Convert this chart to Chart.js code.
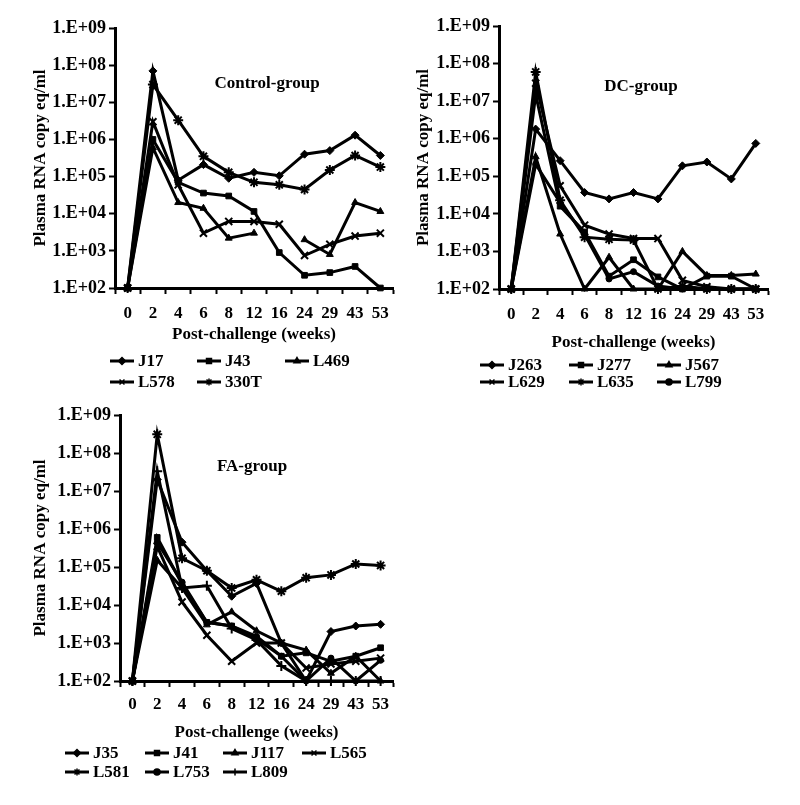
<!DOCTYPE html>
<html lang="en">
<head>
<meta charset="UTF-8">
<title>Plasma RNA copy eq/ml</title>
<script src="https://cdn.jsdelivr.net/npm/chart.js"></script>
<style>
    body { margin: 0; background: #fff; }
    canvas { position: absolute; }
</style>
</head>
<body>
<canvas id="control" width="400" height="400" style="left:0;top:0"></canvas>
<canvas id="dc" width="400" height="400" style="left:400px;top:0"></canvas>
<canvas id="fa" width="400" height="405" style="left:0;top:400px"></canvas>
<script>
// shared axis data
const weeks = ['0', '2', '4', '6', '8', '12', '16', '24', '29', '43', '53'];
const yTickValues = [1e2, 1e3, 1e4, 1e5, 1e6, 1e7, 1e8, 1e9];
const yTickLabels = ['1.E+02', '1.E+03', '1.E+04', '1.E+05', '1.E+06', '1.E+07', '1.E+08', '1.E+09'];

// Control-group
const controlNames = ['J17', 'J43', 'L469', 'L578', '330T'];
const J17  = [100, 7e7, 8e4, 2.1e5, 9e4, 1.3e5, 1.05e5, 4e5, 5e5, 1.3e6, 3.7e5];
const J43  = [100, 1e6, 7e4, 3.6e4, 3e4, 1.15e4, 900, 220, 260, 380, 100];
const L469 = [100, 6e5, 2e4, 1.4e4, 2.2e3, 3e3, null, 2e3, 800, 2e4, 1.15e4];
const L578 = [100, 3e6, 6e4, 3e3, 6.2e3, 6.2e3, 5.2e3, 750, 1.5e3, 2.5e3, 3e3];
const T330 = [100, 3e7, 3.3e6, 3.5e5, 1.3e5, 7e4, 6e4, 4.5e4, 1.5e5, 3.7e5, 1.8e5];

// DC-group
const dcNames = ['J263', 'J277', 'J567', 'L629', 'L635', 'L799'];
const J263 = [100, 1.8e6, 2.6e5, 3.7e4, 2.5e4, 3.7e4, 2.5e4, 1.9e5, 2.4e5, 8.5e4, 7.5e5];
const J277 = [100, 1.5e7, 1.6e4, 3.3e3, 220, 600, 210, 100, 220, 220, 100];
const J567 = [100, 3.3e5, 2.9e3, 100, 700, 100, 100, 1e3, 230, 230, 250];
const L629 = [100, 3e7, 5.6e4, 5e3, 2.9e3, 2.2e3, 2.2e3, 170, 115, 100, 100];
const L635 = [100, 6e7, 2.3e4, 2.4e3, 2.1e3, 2e3, 100, 120, 100, 100, 100];
const L799 = [100, 2.1e5, 2e4, 2.8e3, 185, 290, 120, 100, 100, 100, 100];

// FA-group
const faNames = ['J35', 'J41', 'J117', 'L565', 'L581', 'L753', 'L809'];
const J35  = [100, 2e7, 4.5e5, 8e4, 1.7e4, 3.7e4, 1e3, 100, 2e3, 2.8e3, 3.1e3];
const J41  = [100, 6e5, 3.5e4, 3.5e3, 2.8e3, 1.3e3, 450, 550, 330, 450, 750];
const J117 = [100, 1.5e5, 2.8e4, 3e3, 6.6e3, 2.1e3, 1e3, 650, 160, 450, 100];
const L565 = [100, 3.5e5, 1.2e4, 1.6e3, 330, 1e3, 1e3, 220, 280, 330, 400];
const L581 = [100, 3.1e8, 1.7e5, 8e4, 2.8e4, 4.6e4, 2.3e4, 5.2e4, 6.2e4, 1.2e5, 1.1e5];
const L753 = [100, 4.5e5, 4e4, 3.5e3, 2.8e3, 1.5e3, 450, 100, 400, 100, 350];
const L809 = [100, 3.3e7, 2.8e4, 3.2e4, 2.4e3, 1.2e3, 250, 100, 100, 100, 100];

const FONT = '"Liberation Serif", "Times New Roman", serif';
Chart.defaults.font.family = FONT;
Chart.defaults.font.weight = 'bold';
Chart.defaults.font.size = 17;
Chart.defaults.color = '#000';

// group name inside the plot
const groupLabel = {
    id: 'groupLabel',
    afterDraw(chart, args, opts) {
        const ctx = chart.ctx;
        ctx.save();
        ctx.font = 'bold 17px ' + FONT;
        ctx.fillStyle = '#000';
        ctx.textAlign = 'center';
        ctx.textBaseline = 'middle';
        ctx.fillText(opts.text, opts.x, opts.y);
        ctx.restore();
    }
};

// legend with line + marker like the original
const lineLegend = {
    id: 'lineLegend',
    afterDraw(chart, args, opts) {
        const ctx = chart.ctx;
        ctx.save();
        ctx.font = 'bold 17px ' + FONT;
        ctx.textBaseline = 'middle';
        chart.data.datasets.forEach((ds, i) => {
            const x = opts.cols[i % opts.cols.length];
            const y = opts.rows[Math.floor(i / opts.cols.length)];
            ctx.strokeStyle = '#000';
            ctx.fillStyle = '#000';
            ctx.lineWidth = 3;
            ctx.beginPath();
            ctx.moveTo(x, y);
            ctx.lineTo(x + 24, y);
            ctx.stroke();
            ctx.lineWidth = 1.5;
            const r = ds.pointStyle === 'circle' ? 3 : 3.5;
            Chart.helpers.drawPoint(ctx, { pointStyle: ds.pointStyle, radius: r, borderWidth: 1.5, rotation: 0 }, x + 12, y);
            ctx.fillText(ds.label, x + 28, y + 1);
        });
        ctx.restore();
    }
};

function makeDataset(label, data, style) {
    const thin = ['crossRot', 'star', 'cross'].includes(style);
    return {
        label: label,
        data: data,
        borderColor: '#000',
        backgroundColor: '#000',
        borderWidth: 3,
        pointStyle: style,
        pointRadius: thin ? 5 : (style === 'circle' ? 3 : 4),
        pointBorderWidth: thin ? 2 : 1,
        pointBackgroundColor: '#000',
        pointBorderColor: '#000',
        tension: 0,
        spanGaps: false,
        clip: false
    };
}

function makePanel(id, names, series, styles, lay) {
    new Chart(document.getElementById(id), {
        type: 'line',
        data: {
            labels: weeks,
            datasets: names.map((n, i) => makeDataset(n, series[i], styles[i]))
        },
        options: {
            responsive: false,
            animation: false,
            layout: { padding: lay.padding },
            plugins: {
                legend: { display: false },
                tooltip: { enabled: false },
                groupLabel: lay.group,
                lineLegend: lay.legend
            },
            scales: {
                x: {
                    offset: true,
                    grid: { offset: true, drawOnChartArea: false, tickLength: 6, tickWidth: 2, tickColor: '#000' },
                    border: { color: '#000', width: 3 },
                    ticks: { padding: lay.xPad, autoSkip: false, maxRotation: 0, color: '#000' },
                    title: { display: true, text: 'Post-challenge (weeks)', color: '#000', padding: { top: 4, bottom: 4 } },
                    afterFit: s => { s.height = lay.xHeight; }
                },
                y: {
                    type: 'logarithmic',
                    min: 1e2,
                    max: 1e9,
                    grid: { drawOnChartArea: false, tickLength: 6, tickWidth: 2, tickColor: '#000' },
                    border: { color: '#000', width: 3 },
                    afterBuildTicks: s => { s.ticks = yTickValues.map(v => ({ value: v })); },
                    ticks: { padding: 3, color: '#000', font: { size: 18 }, callback: (v, i) => yTickLabels[i] },
                    title: { display: true, text: 'Plasma RNA copy eq/ml', color: '#000', padding: { top: 4, bottom: 4 } },
                    afterFit: s => { s.width = lay.yWidth; }
                }
            }
        },
        plugins: [groupLabel, lineLegend]
    });
}

makePanel('control', controlNames, [J17, J43, L469, L578, T330],
    ['rectRot', 'rect', 'triangle', 'crossRot', 'star'], {
        padding: { left: 26, right: 7, top: 28, bottom: 51 },
        xHeight: 61, yWidth: 89, xPad: 9,
        group: { text: 'Control-group', x: 267, y: 84 },
        legend: { cols: [110, 197, 285], rows: [361, 382] }
    });

makePanel('dc', dcNames, [J263, J277, J567, L629, L635, L799],
    ['rectRot', 'rect', 'triangle', 'crossRot', 'star', 'circle'], {
        padding: { left: 9, right: 32, top: 26, bottom: 43 },
        xHeight: 68, yWidth: 90, xPad: 9,
        group: { text: 'DC-group', x: 241, y: 87 },
        legend: { cols: [80, 169, 257], rows: [365, 382] }
    });

makePanel('fa', faNames, [J35, J41, J117, L565, L581, L753, L809],
    ['rectRot', 'rect', 'triangle', 'crossRot', 'star', 'circle', 'cross'], {
        padding: { left: 26, right: 3, top: 15, bottom: 58 },
        xHeight: 66, yWidth: 94, xPad: 7,
        group: { text: 'FA-group', x: 252, y: 67 },
        legend: { cols: [65, 145, 223, 302], rows: [353, 372] }
    });
</script>
</body>
</html>
